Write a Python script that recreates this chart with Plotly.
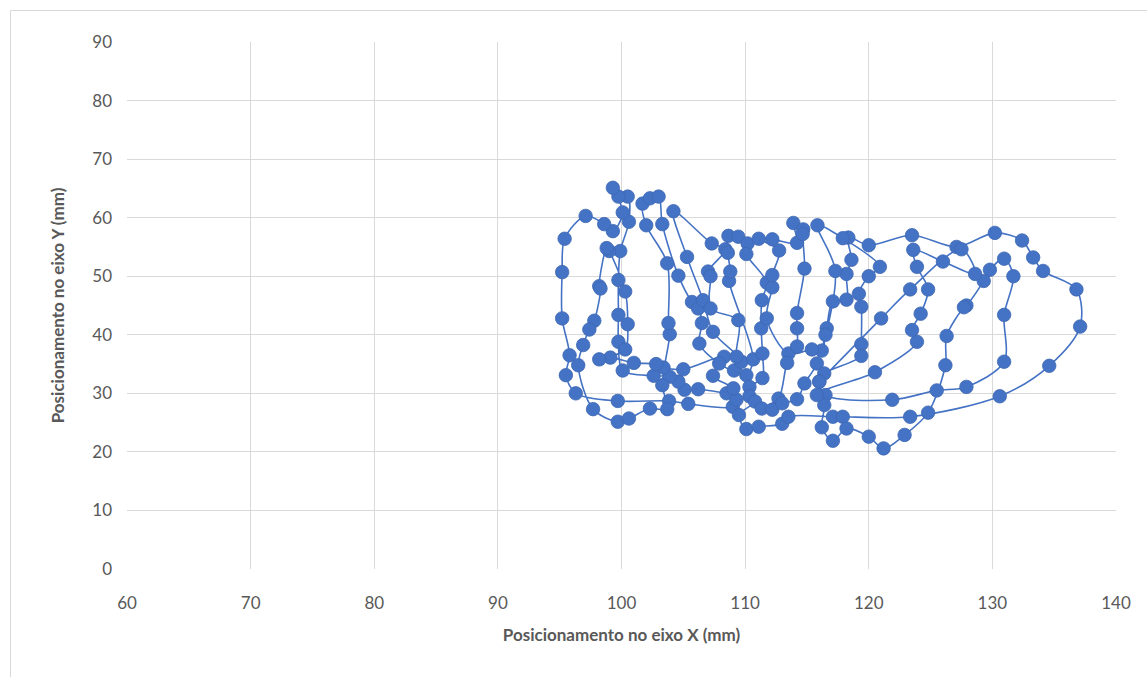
import plotly.graph_objects as go

# Trajectory of the tool tip, in mm, in the order it was recorded
pos_x = [
    108.5, 106.2, 105.1, 104.6, 103.9, 102.6, 100.1, 99.75, 99.75, 99.75,
    99.9, 100.6, 100.5, 99.75, 99.3, 100.1, 99.3, 98.6, 97.1, 95.4,
    95.2, 95.2, 95.8, 95.5, 96.3, 99.7, 103.85, 105.4, 109.0,
    109.3, 109.05, 107.4, 108.3, 105.0, 103.4, 102.8, 101.0, 99.1, 98.2,
    100.3, 100.5, 100.3, 99.0, 98.8, 98.2, 98.3, 97.8, 97.4, 96.9,
    96.5, 97.7, 99.7, 100.6, 102.3, 103.7, 103.3,
    103.9, 103.8, 103.7, 102.0, 101.7, 102.3, 103.0, 103.3, 104.6, 105.7,
    106.2, 106.5, 106.3, 107.9, 109.1,
    109.7, 107.4, 106.6, 105.3, 104.2, 107.3, 108.4, 107.0, 107.2, 107.2,
    109.45, 109.3, 110.1,
    110.65, 108.7, 108.8, 108.6, 108.65, 109.45, 110.2, 110.1, 111.75, 111.35,
    111.3, 111.4, 111.4, 110.35, 110.35, 110.8,
    109.5, 110.1, 111.1, 113.0, 113.5, 117.1, 117.9, 123.35, 130.6, 134.6,
    137.1, 136.8, 134.1, 133.3, 132.4, 130.2, 127.1, 123.5, 120.0, 118.35,
    118.6, 118.2, 118.2, 117.1, 116.6, 116.5, 116.2, 115.4,
    113.5, 111.75, 112.2, 112.2, 112.75, 111.1, 112.2, 114.2, 113.9, 114.7,
    114.65, 114.8, 114.2, 114.2, 114.2, 113.4, 112.7, 111.35, 112.2, 113.0,
    114.2,
    114.8, 115.8, 117.3, 115.85, 117.9, 120.9, 120.0, 119.2, 119.4, 119.4,
    119.4, 116.4, 116.0,
    116.5, 121.9, 125.5, 127.9, 130.95, 130.95, 131.7, 130.95, 129.8, 129.3,
    127.9, 127.7, 126.3, 126.2, 124.8, 122.9, 121.2, 120.0, 118.2, 117.1,
    116.2, 116.4, 115.8,
    120.5, 123.9, 123.5, 124.2, 124.8, 123.9, 123.6, 126.0, 128.6, 127.5,
    123.35, 121.0, 116.0,
]
pos_y = [
    30.0, 30.7, 30.6, 32.0, 32.85, 33.0, 33.9, 38.8, 43.4, 49.35,
    54.3, 59.3, 63.6, 63.6, 65.1, 60.9, 57.7, 58.9, 60.3, 56.4,
    50.7, 42.8, 36.5, 33.1, 30.0, 28.7, 28.7, 28.2, 27.7,
    28.9, 30.85, 33.0, 36.25, 34.1, 34.4, 35.0, 35.2, 36.1, 35.8,
    37.5, 41.8, 47.4, 54.3, 54.8, 48.3, 47.9, 42.4, 40.9, 38.25,
    34.8, 27.3, 25.15, 25.7, 27.4, 27.3, 31.4,
    40.1, 42.0, 52.2, 58.7, 62.4, 63.3, 63.6, 58.9, 50.1, 45.6,
    44.5, 42.0, 38.5, 35.1, 33.9,
    35.4, 40.5, 45.9, 53.3, 61.1, 55.6, 54.6, 50.8, 50.0, 44.5,
    42.5, 36.25, 33.1,
    35.8, 49.2, 50.8, 54.0, 56.9, 56.75, 55.6, 53.8, 48.9, 45.9,
    41.1, 36.8, 32.6, 31.1, 29.5, 28.6,
    26.3, 23.9, 24.3, 24.8, 26.0, 26.0, 26.0, 26.0, 29.5, 34.7,
    41.4, 47.75, 50.9, 53.2, 56.1, 57.4, 55.0, 57.0, 55.3, 56.6,
    52.8, 50.4, 46.0, 45.7, 41.1, 40.0, 37.3, 37.5,
    36.8, 42.8, 48.1, 50.2, 54.4, 56.4, 56.3, 55.7, 59.1, 58.0,
    57.2, 51.3, 43.7, 41.1, 38.0, 35.2, 29.1, 27.4, 27.2, 28.3,
    29.0,
    31.7, 35.1, 50.9, 58.7, 56.5, 51.6, 50.0, 47.0, 44.8, 38.4,
    36.4, 33.4, 32.0,
    29.7, 28.9, 30.5, 31.1, 35.4, 43.4, 50.0, 53.0, 51.1, 49.2,
    45.0, 44.7, 39.8, 34.8, 26.7, 22.9, 20.6, 22.6, 24.0, 21.9,
    24.2, 28.0, 29.7,
    33.6, 38.8, 40.8, 43.6, 47.75, 51.6, 54.5, 52.5, 50.4, 54.6,
    47.75, 42.8, 32.0,
]

x_ticks = [60, 70, 80, 90, 100, 110, 120, 130, 140]
y_ticks = [0, 10, 20, 30, 40, 50, 60, 70, 80, 90]

blue = "#4472C4"
grid = "#D9D9D9"
text_col = "#595959"
font_family = "Lato, 'Open Sans', sans-serif"

fig = go.Figure()
fig.add_trace(go.Scatter(
    x=pos_x, y=pos_y,
    mode="lines+markers",
    line=dict(color=blue, width=1.6, shape="spline", smoothing=0.9),
    marker=dict(color=blue, size=13.5, line=dict(color="#3F68B3", width=0.8)),
    showlegend=False,
    hoverinfo="x+y",
))

W, H = 1147, 677
L, R, T, B = 127, 31, 42, 108
pw, ph = W - L - R, H - T - B

def px_to_paper_x(px):
    return (px - L) / pw

def px_to_paper_y(py):
    return (H - B - py) / ph

# chart frame (its right and bottom edges sit just past the page edge)
fig.add_shape(type="rect", xref="paper", yref="paper",
              x0=px_to_paper_x(10.5), x1=px_to_paper_x(1152),
              y0=px_to_paper_y(682), y1=px_to_paper_y(10.5),
              line=dict(color="#D9D9D9", width=1), fillcolor="rgba(0,0,0,0)",
              layer="below")

fig.update_layout(
    width=W, height=H,
    margin=dict(l=L, r=R, t=T, b=B, autoexpand=False),
    paper_bgcolor="white", plot_bgcolor="white",
    font=dict(family=font_family, color=text_col, size=17),
    xaxis=dict(
        range=[60, 140], tickvals=x_ticks, ticktext=[str(v) for v in x_ticks],
        showgrid=True, gridcolor=grid, gridwidth=1,
        zeroline=False, showline=False, ticks="",
        ticklabelstandoff=22,
        title=dict(text="<b>Posicionamento no eixo X (mm)</b>",
                   font=dict(size=17, color=text_col, family=font_family),
                   standoff=17),
    ),
    yaxis=dict(
        range=[0, 90], tickvals=y_ticks, ticktext=[str(v) for v in y_ticks],
        showgrid=True, gridcolor=grid, gridwidth=1,
        zeroline=False, showline=False, ticks="",
        ticklabelstandoff=14,
        title=dict(text="<b>Posicionamento no eixo Y (mm)</b>",
                   font=dict(size=17, color=text_col, family=font_family),
                   standoff=23),
    ),
)

fig.write_html("out.html")
